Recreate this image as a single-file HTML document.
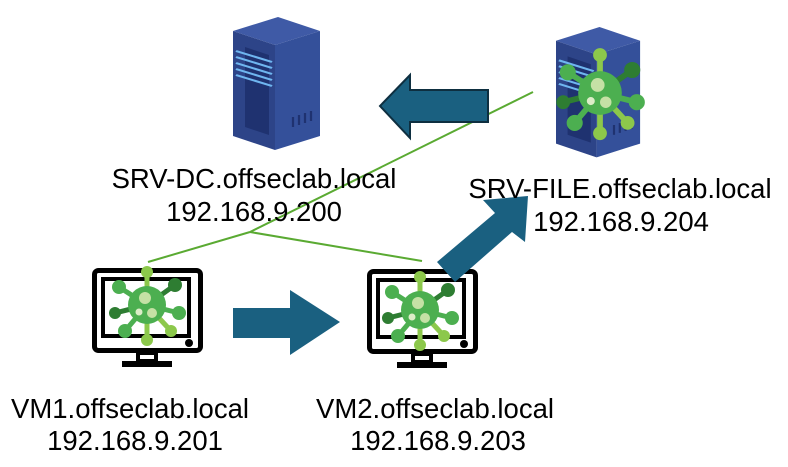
<!DOCTYPE html>
<html><head><meta charset="utf-8"><style>
html,body{margin:0;padding:0;background:#fff;width:788px;height:467px;overflow:hidden}
svg text{font-family:"Liberation Sans",sans-serif;font-size:27.5px;fill:#000}
</style></head><body>
<svg width="788" height="467" viewBox="0 0 788 467" xmlns="http://www.w3.org/2000/svg">
<defs>
<g id="server">
  <polygon points="0,14 30,0 58,14 28,28" fill="#3f5aa6"/>
  <polygon points="0,14 28,28 28,133 0,119" fill="#2d4488"/>
  <polygon points="28,28 58,14 58,119 28,133" fill="#34509a"/>
  <polygon points="8,30 24,38 24,118 8,110" fill="#1f3270"/>
  <g stroke="#6fb6f0" stroke-width="2">
    <line x1="2" y1="34" x2="26" y2="45"/><line x1="2" y1="40" x2="26" y2="51"/>
    <line x1="2" y1="46" x2="26" y2="57"/><line x1="2" y1="52" x2="26" y2="63"/>
    <line x1="2" y1="58" x2="26" y2="69"/>
  </g>
  <g stroke="#1f3270" stroke-width="1.5">
    <line x1="40" y1="100" x2="40" y2="110"/><line x1="44" y1="98" x2="44" y2="108"/>
    <line x1="48" y1="96" x2="48" y2="106"/><line x1="52" y1="94" x2="52" y2="104"/>
  </g>
</g>
<g id="virus">
  <g stroke-width="5" stroke-linecap="round">
    <line x1="0" y1="0" x2="0" y2="-33" stroke="#8cc84b"/>
    <line x1="0" y1="0" x2="0" y2="35" stroke="#8cc84b"/>
    <line x1="0" y1="0" x2="-28" y2="-18" stroke="#4caf50"/>
    <line x1="0" y1="0" x2="28" y2="-20" stroke="#2e7d32"/>
    <line x1="0" y1="0" x2="-32" y2="8" stroke="#2e7d32"/>
    <line x1="0" y1="0" x2="32" y2="8" stroke="#4caf50"/>
    <line x1="0" y1="0" x2="-22" y2="26" stroke="#4caf50"/>
    <line x1="0" y1="0" x2="24" y2="26" stroke="#8cc84b"/>
  </g>
  <circle cx="0" cy="-33" r="6" fill="#8cc84b"/><circle cx="0" cy="35" r="6" fill="#8cc84b"/>
  <circle cx="-28" cy="-18" r="7" fill="#4caf50"/><circle cx="28" cy="-20" r="7" fill="#2e7d32"/>
  <circle cx="-32" cy="8" r="6" fill="#2e7d32"/><circle cx="32" cy="8" r="7" fill="#4caf50"/>
  <circle cx="-22" cy="26" r="7" fill="#4caf50"/><circle cx="24" cy="26" r="6" fill="#8cc84b"/>
  <circle cx="0" cy="0" r="19" fill="#4caf50"/>
  <circle cx="-2" cy="-7" r="6" fill="#c5e1a5"/>
  <circle cx="-8" cy="7" r="3.5" fill="#dcedc8"/>
  <circle cx="5" cy="8" r="5" fill="#c5e1a5"/>
</g>
<g id="monitor">
  <rect x="2.5" y="2.5" width="106" height="80" rx="4" fill="#fff" stroke="#000" stroke-width="5"/>
  <rect x="11" y="11" width="86" height="57" fill="none" stroke="#000" stroke-width="4"/>
  <circle cx="97" cy="75" r="4" fill="#000"/>
  <rect x="46" y="85" width="18" height="8" fill="none" stroke="#000" stroke-width="4"/>
  <rect x="30" y="93" width="50" height="6" fill="#000"/>
</g>
</defs>

<use href="#server" transform="translate(233,17) scale(1.5,1)"/>
<use href="#server" transform="translate(556,27) scale(1.45,0.98)"/>
<use href="#virus" transform="translate(600,93) scale(1.15)"/>

<g stroke="#5aaa32" stroke-width="2">
  <line x1="533" y1="92" x2="250" y2="232"/>
  <line x1="250" y1="232" x2="148" y2="262"/>
  <line x1="250" y1="232" x2="422" y2="261"/>
</g>

<polygon points="488,90 488,122 410,122 410,138 380,106 410,75 410,90" fill="#1a6080" stroke="#0e2f40" stroke-width="2"/>

<use href="#monitor" x="92" y="268"/>
<use href="#virus" x="147" y="305"/>
<use href="#monitor" x="367" y="269"/>
<use href="#virus" x="420" y="310"/>

<polygon points="233,308 290,308 290,290 340,322 290,355 290,338 233,338" fill="#1a6080"/>
<polygon points="437,262 495,213 483,200 528,196 525,242 512,232 455,282" fill="#1a6080"/>

<text x="254" y="188" text-anchor="middle">SRV-DC.offseclab.local</text>
<text x="254" y="221" text-anchor="middle">192.168.9.200</text>
<text x="620" y="198" text-anchor="middle">SRV-FILE.offseclab.local</text>
<text x="621" y="231" text-anchor="middle">192.168.9.204</text>
<text x="130" y="418" text-anchor="middle">VM1.offseclab.local</text>
<text x="135" y="450" text-anchor="middle">192.168.9.201</text>
<text x="435" y="418" text-anchor="middle">VM2.offseclab.local</text>
<text x="438" y="450" text-anchor="middle">192.168.9.203</text>
</svg>
</body></html>
